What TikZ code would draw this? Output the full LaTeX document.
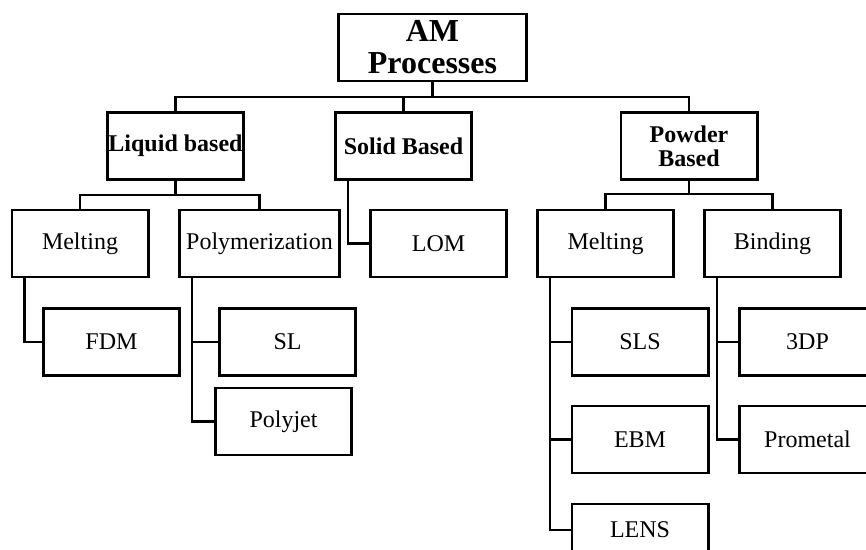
\documentclass[tikz,border=0pt]{standalone}
\usepackage{fontspec}
\setmainfont{Liberation Serif}
\tikzset{
	box/.style={draw,line width=2.7pt,minimum width=136.3pt,minimum height=66.8pt,inner sep=0pt,align=center,font=\fontsize{24}{24}\selectfont},
	head/.style={box,font=\fontsize{24}{24}\selectfont\bfseries},
	link/.style={line width=2.6pt}
}

\begin{document}
\begin{tikzpicture}[x=1pt,y=-1pt]
\useasboundingbox (0,0) rectangle (866,549);
\node[head,minimum width=188.3pt,font=\fontsize{32}{32}\selectfont\bfseries] (am) at (432.5,47.5) {AM\\Processes};
\node[head] (liquid) at (175.5,146) {Liquid based};
\node[head] (solid) at (403.5,146) {Solid Based};
\node[head] (powder) at (689,146) {Powder\\Based};
\node[box] (melt1) at (80,243.5) {Melting};
\node[box,minimum width=160.3pt] (poly) at (259.5,243.5) {Polymerization};
\node[box] (lom) at (438.5,243.5) {LOM};
\node[box] (melt2) at (605.5,243.5) {Melting};
\node[box] (bind) at (772.5,243.5) {Binding};
\node[box] (fdm) at (111.5,342) {FDM};
\node[box] (sl) at (287.5,342) {SL};
\node[box] (polyjet) at (283.5,421.5) {Polyjet};
\node[box] (sls) at (640,342) {SLS};
\node[box] (ebm) at (640,439.5) {EBM};
\node[box,minimum height=52pt] (lens) at (640,530) {LENS};
\node[box] (tdp) at (807.5,342) {3DP};
\node[box] (prometal) at (807.5,439.5) {Prometal};
\coordinate (amBus) at (432.5,97);
\coordinate (liqBus) at (175.5,195);
\coordinate (powBus) at (689,194);
\draw[link] (am.south) -- (amBus);
\draw[link] (liquid.north) |- (amBus) -| (powder.north);
\draw[link] (solid.north) -- (solid.north |- amBus);
\draw[link] (liquid.south) -- (liqBus);
\draw[link] (melt1.north) |- (liqBus) -| (poly.north);
\draw[link] (powder.south) -- (powBus);
\draw[link] (melt2.north) |- (powBus) -| (bind.north);
\draw[link] ([xshift=14pt]solid.south west) |- (lom.west);
\draw[link] ([xshift=14pt]melt1.south west) |- (fdm.west);
\foreach \n in {sl,polyjet}
	\draw[link] ([xshift=14pt]poly.south west) |- (\n.west);
\foreach \n in {sls,ebm,lens}
	\draw[link] ([xshift=14pt]melt2.south west) |- (\n.west);
\foreach \n in {tdp,prometal}
	\draw[link] ([xshift=14pt]bind.south west) |- (\n.west);
\end{tikzpicture}
\end{document}
